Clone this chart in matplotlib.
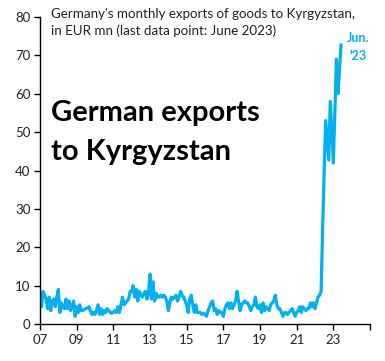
import numpy as np
import matplotlib
matplotlib.use("Agg")
import matplotlib.pyplot as plt

# monthly exports, EUR mn, Jan 2007 .. Jun 2023
vals_2007 = [8.0, 4.5, 8.5, 7.5, 6.5, 4.0, 7.0, 3.5, 6.0, 6.5, 4.5, 7.0]
vals_2008 = [9.0, 3.0, 5.5, 4.5, 4.0, 6.5, 4.0, 6.0, 3.5, 4.5, 6.0, 2.0]
vals_2009 = [4.5, 3.0, 5.0, 3.5, 3.5, 3.8, 4.0, 4.2, 4.5, 3.5, 2.5, 3.0]
vals_2010 = [2.5, 3.5, 5.0, 2.5, 4.0, 2.5, 3.5, 3.0, 4.0, 3.5, 3.0, 2.8]
vals_2011 = [3.0, 3.5, 3.0, 4.5, 3.0, 5.0, 7.0, 5.0, 5.5, 6.0, 6.5, 8.5]
vals_2012 = [8.5, 10.0, 7.0, 9.0, 6.0, 8.5, 7.5, 7.0, 8.0, 8.5, 6.5, 8.0]
vals_2013 = [13.0, 6.5, 11.0, 6.0, 8.0, 7.0, 7.0, 7.5, 7.0, 7.5, 7.0, 6.0]
vals_2014 = [3.5, 5.5, 7.0, 6.5, 7.0, 7.5, 6.0, 7.0, 8.5, 7.5, 7.0, 6.0]
vals_2015 = [5.0, 3.0, 6.5, 7.5, 5.0, 3.0, 5.0, 3.0, 3.0, 3.0, 2.5, 2.8]
vals_2016 = [2.5, 2.0, 3.5, 4.5, 5.5, 6.0, 3.5, 4.0, 2.5, 3.5, 3.0, 3.0]
vals_2017 = [2.0, 4.0, 5.0, 5.5, 4.0, 5.5, 4.0, 5.0, 6.0, 8.5, 6.0, 3.5]
vals_2018 = [5.0, 5.5, 6.0, 5.5, 5.5, 4.5, 3.5, 4.5, 5.0, 7.0, 4.5, 4.0]
vals_2019 = [5.0, 3.0, 5.5, 3.5, 4.5, 4.0, 3.5, 5.0, 5.5, 6.0, 7.5, 5.0]
vals_2020 = [4.0, 4.0, 3.0, 2.0, 3.0, 3.0, 2.5, 3.0, 3.5, 4.0, 3.0, 2.0]
vals_2021 = [3.0, 3.5, 4.5, 3.0, 4.5, 4.0, 3.5, 4.0, 4.0, 5.5, 4.5, 5.5]
vals_2022 = [4.0, 5.5, 7.0, 7.5, 8.5, 25.0, 40.0, 53.0, 48.0, 42.7, 58.0, 50.0]
vals_2023 = [42.0, 55.0, 69.0, 60.0, 66.0, 72.7]

exports = (vals_2007 + vals_2008 + vals_2009 + vals_2010 + vals_2011 + vals_2012
           + vals_2013 + vals_2014 + vals_2015 + vals_2016 + vals_2017 + vals_2018
           + vals_2019 + vals_2020 + vals_2021 + vals_2022 + vals_2023)
dates = 2007 + np.arange(len(exports)) / 12.0

x_ticks = list(range(2007, 2026, 2))
x_labels = ["07", "09", "11", "13", "15", "17", "19", "21", "23", ""]
y_ticks = [0, 10, 20, 30, 40, 50, 60, 70, 80]

BLUE = "#00b0f0"
FONT = "Lato"

W, H = 385, 361
fig = plt.figure(figsize=(W / 100, H / 100), dpi=100, facecolor="white")
ax = fig.add_axes([40 / W, 1 - 324 / H, 330 / W, 307 / H])

ax.plot(dates, exports, color=BLUE, linewidth=2.3, solid_joinstyle="round")

ax.set_xlim(2007, 2025)
ax.set_ylim(0, 80)
ax.set_xticks(x_ticks)
ax.set_xticklabels(x_labels)
ax.set_yticks(y_ticks)
for s in ["top", "right"]:
    ax.spines[s].set_visible(False)
for s in ["left", "bottom"]:
    ax.spines[s].set_linewidth(1.0)
ax.tick_params(direction="out", length=4, width=1.0, labelsize=9.5, pad=3)
for lab in ax.get_xticklabels() + ax.get_yticklabels():
    lab.set_fontfamily(FONT)
    lab.set_color("#222222")

# texts
fig.text(51 / W, 1 - 14 / H, "Germany's monthly exports of goods to Kyrgyzstan,",
         family=FONT, fontsize=9.6, va="center", ha="left", color="#222222")
fig.text(51 / W, 1 - 31 / H, "in EUR mn (last data point: June 2023)",
         family=FONT, fontsize=9.6, va="center", ha="left", color="#222222")
fig.text(51 / W, 1 - 121 / H, "German exports", family=FONT, fontsize=21,
         fontweight="bold", va="baseline", ha="left", color="black")
fig.text(51 / W, 1 - 160 / H, "to Kyrgyzstan", family=FONT, fontsize=21,
         fontweight="bold", va="baseline", ha="left", color="black")
fig.text(347 / W, 1 - 38 / H, "Jun.", family=FONT, fontsize=9,
         fontweight="bold", va="center", ha="left", color=BLUE)
fig.text(349 / W, 1 - 56 / H, "'23", family=FONT, fontsize=9,
         fontweight="bold", va="center", ha="left", color=BLUE)

fig.savefig("out.png", dpi=100, facecolor="white")
